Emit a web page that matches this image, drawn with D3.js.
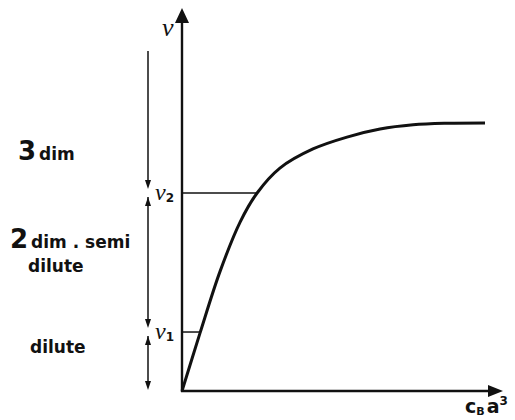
<!DOCTYPE html>
<html>
<head>
<meta charset="utf-8">
<script src="https://cdn.jsdelivr.net/npm/d3@7"></script>
<style>
  body { margin: 0; background: #fff; }
  svg { display: block; }
  .lab { font-family: "DejaVu Sans", "Liberation Sans", sans-serif; font-weight: bold; fill: #111; }
  .nu { font-family: "Liberation Serif", "DejaVu Serif", serif; font-style: italic; fill: #111; }
</style>
</head>
<body>
<script>
// curve nu(c_B a^3), arbitrary units
var conc = [0, 0.056, 0.118, 0.181, 0.234, 0.305, 0.408, 0.514, 0.617, 0.720, 0.826, 0.944];
var nuVals = [0, 0.151, 0.311, 0.441, 0.517, 0.582, 0.632, 0.663, 0.684, 0.695, 0.699, 0.700];

// crossover levels
var levelNames = ["1", "2"];
var levelValues = [0.154, 0.517];
var topLevel = 0.888;

// regime labels: big digit + rest
var regimeBig = ["3", "2", "", ""];
var regimeText = ["dim", "dim . semi", "dilute", "dilute"];

var width = 515, height = 420;

var svg = d3.select("body").append("svg")
    .attr("width", width)
    .attr("height", height);

var x = d3.scaleLinear().domain([0, 1]).range([182, 503]);
var y = d3.scaleLinear().domain([0, 1]).range([391, 8]);

// axes
svg.append("line")
    .attr("x1", x(0)).attr("y1", y(0) + 1)
    .attr("x2", x(0)).attr("y2", y(1) + 12)
    .attr("stroke", "#111").attr("stroke-width", 2.4);
svg.append("line")
    .attr("x1", x(0) - 1).attr("y1", y(0))
    .attr("x2", x(1) - 12).attr("y2", y(0))
    .attr("stroke", "#111").attr("stroke-width", 2.4);

// axis arrowheads
svg.append("path")
    .attr("d", "M" + x(0) + "," + y(1) + "L" + (x(0) - 7) + "," + (y(1) + 15) + "L" + (x(0) + 7) + "," + (y(1) + 15) + "Z")
    .attr("fill", "#111");
svg.append("path")
    .attr("d", "M" + x(1) + "," + y(0) + "L" + (x(1) - 15) + "," + (y(0) - 6) + "L" + (x(1) - 15) + "," + (y(0) + 6) + "Z")
    .attr("fill", "#111");

// the curve
var pts = conc.map(function(c, i) { return [c, nuVals[i]]; });
var line = d3.line()
    .x(function(d) { return x(d[0]); })
    .y(function(d) { return y(d[1]); })
    .curve(d3.curveCatmullRom.alpha(0.5));

svg.append("path")
    .datum(pts)
    .attr("d", line)
    .attr("fill", "none")
    .attr("stroke", "#111")
    .attr("stroke-width", 3)
    .attr("stroke-linejoin", "round");

// horizontal lines from axis to curve at nu1, nu2
var invert = d3.scaleLinear().domain(nuVals.slice(0, 6)).range(conc.slice(0, 6));
levelValues.forEach(function(v, i) {
    svg.append("line")
        .attr("x1", x(0)).attr("y1", y(v))
        .attr("x2", x(invert(v))).attr("y2", y(v))
        .attr("stroke", "#111").attr("stroke-width", 1.5);
    var t = svg.append("text")
        .attr("class", "nu")
        .attr("x", x(0) - 27)
        .attr("y", y(v) + 7)
        .attr("font-size", 24)
        .text("\u03BD");
    t.append("tspan")
        .attr("font-style", "normal")
        .attr("font-family", "DejaVu Sans, sans-serif")
        .attr("font-weight", "bold")
        .attr("font-size", 12)
        .attr("dy", 2)
        .text(levelNames[i]);
});

// y axis label
svg.append("text")
    .attr("class", "nu")
    .attr("x", x(0) - 20)
    .attr("y", y(1) + 28)
    .attr("font-size", 26)
    .text("\u03BD");

// x axis label c_B a^3
var xl = svg.append("text")
    .attr("class", "lab")
    .attr("x", 465)
    .attr("y", 413)
    .attr("font-size", 19);
xl.append("tspan").text("c");
xl.append("tspan").attr("font-size", 11).attr("dy", 2).text("B");
xl.append("tspan").attr("dy", -2).attr("dx", 2).text("a");
xl.append("tspan").attr("font-size", 12).attr("dy", -8).text("3");

// regime arrows on the left
var ax = 148;
var bounds = [0, levelValues[0], levelValues[1], topLevel];
function headDown(px, py) {
    return "M" + px + "," + py + "L" + (px - 3) + "," + (py - 9) + "L" + (px + 3) + "," + (py - 9) + "Z";
}
function headUp(px, py) {
    return "M" + px + "," + py + "L" + (px - 3) + "," + (py + 9) + "L" + (px + 3) + "," + (py + 9) + "Z";
}
for (var i = 0; i < 3; i++) {
    var lo = bounds[i], hi = bounds[i + 1];
    var yBot = i === 0 ? y(lo) - 1 : y(lo) - 4;
    var yTop = i === 2 ? y(hi) : y(hi) + 4;
    svg.append("line")
        .attr("x1", ax).attr("y1", yTop)
        .attr("x2", ax).attr("y2", yBot - 4)
        .attr("stroke", "#111").attr("stroke-width", 1.5);
    svg.append("path").attr("d", headDown(ax, yBot)).attr("fill", "#111");
    if (i < 2) svg.append("path").attr("d", headUp(ax, yTop)).attr("fill", "#111");
}

// regime labels
var labPos = [[18, 160], [10, 248], [28, 272], [30, 353]];
regimeText.forEach(function(s, i) {
    var t = svg.append("text")
        .attr("class", "lab")
        .attr("x", labPos[i][0])
        .attr("y", labPos[i][1]);
    if (regimeBig[i]) {
        t.append("tspan").attr("font-size", 26).text(regimeBig[i]);
    }
    t.append("tspan")
        .attr("font-size", 17)
        .attr("dx", regimeBig[i] ? 3 : 0)
        .text(s);
});
</script>
</body>
</html>
